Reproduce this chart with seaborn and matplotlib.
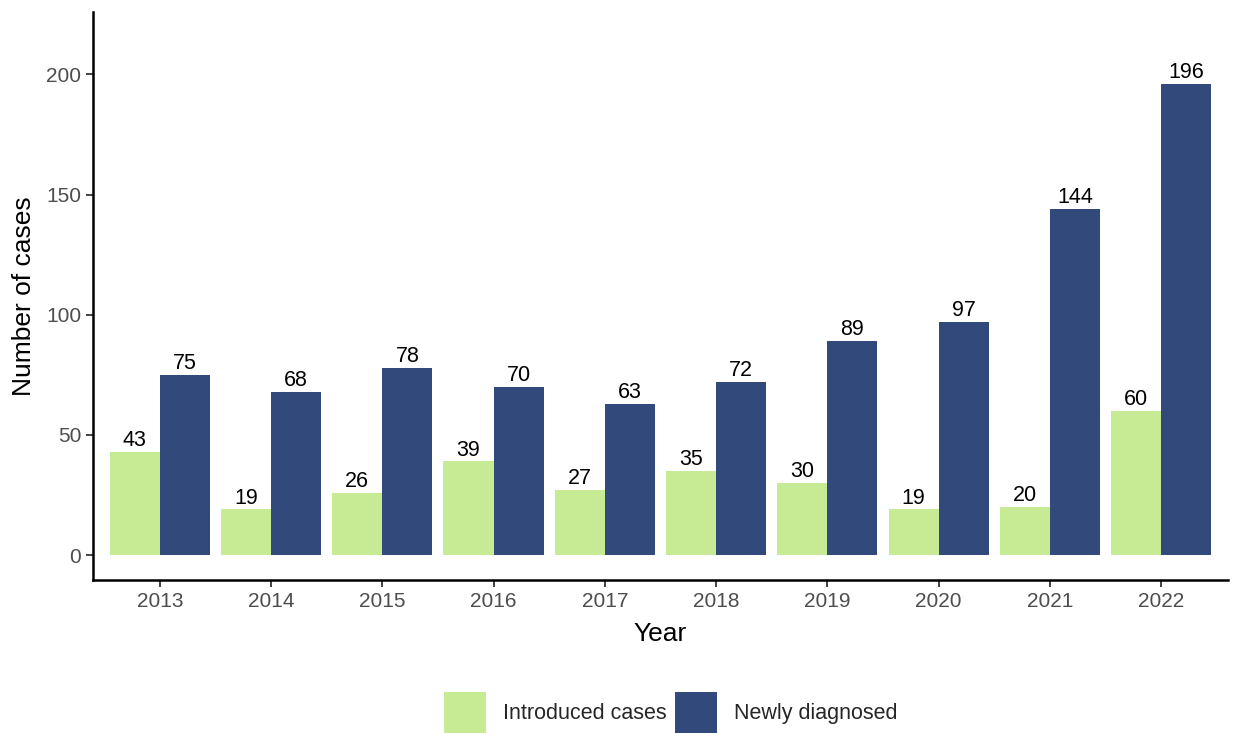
import matplotlib
matplotlib.use("Agg")
import matplotlib.pyplot as plt
import seaborn as sns
import pandas as pd

years = ["2013", "2014", "2015", "2016", "2017", "2018", "2019", "2020", "2021", "2022"]
introduced = [43, 19, 26, 39, 27, 35, 30, 19, 20, 60]
newly = [75, 68, 78, 70, 63, 72, 89, 97, 144, 196]
series_names = ["Introduced cases", "Newly diagnosed"]
colors = ["#C7EB94", "#324A7B"]
yticks = [0, 50, 100, 150, 200]

df = pd.DataFrame({
    "Year": years * 2,
    "Cases": introduced + newly,
    "Type": [series_names[0]] * len(years) + [series_names[1]] * len(years),
})

sns.set_style("white")
plt.rcParams['font.family'] = ['Liberation Sans', 'DejaVu Sans']

fig = plt.figure(figsize=(12.35, 7.33), dpi=100)
ax = fig.add_axes([0.0753, 0.2087, 0.9190, 0.7749])

sns.barplot(data=df, x="Year", y="Cases", hue="Type", palette=colors,
            width=0.9, linewidth=0, saturation=1, ax=ax, legend=True)

for cont in ax.containers:
    ax.bar_label(cont, fontsize=15.5, color="black", padding=0.5)

ax.set_xlim(-0.6, 9.6)
ax.set_ylim(-10.4, 226)
ax.set_yticks(yticks)
ax.set_xlabel("Year", fontsize=19, color="black", labelpad=8)
ax.set_ylabel("Number of cases", fontsize=19, color="black", labelpad=7)
ax.tick_params(axis="both", labelsize=15, labelcolor="#4D4D4D", length=5, width=1.2,
               color="#222222", direction="out", left=True, bottom=True)
for s in ["top", "right"]:
    ax.spines[s].set_visible(False)
for s in ["left", "bottom"]:
    ax.spines[s].set_linewidth(1.8)
    ax.spines[s].set_color("black")
ax.grid(False)

handles, labels = ax.get_legend_handles_labels()
ax.legend_.remove()
fig.legend(handles, labels, loc="center", bbox_to_anchor=(0.543, 0.028),
           ncol=2, frameon=False, fontsize=15.5, handlelength=1.95, handleheight=2.6,
           handletextpad=0.8, columnspacing=0.4)

fig.savefig("out.png", dpi=100)
